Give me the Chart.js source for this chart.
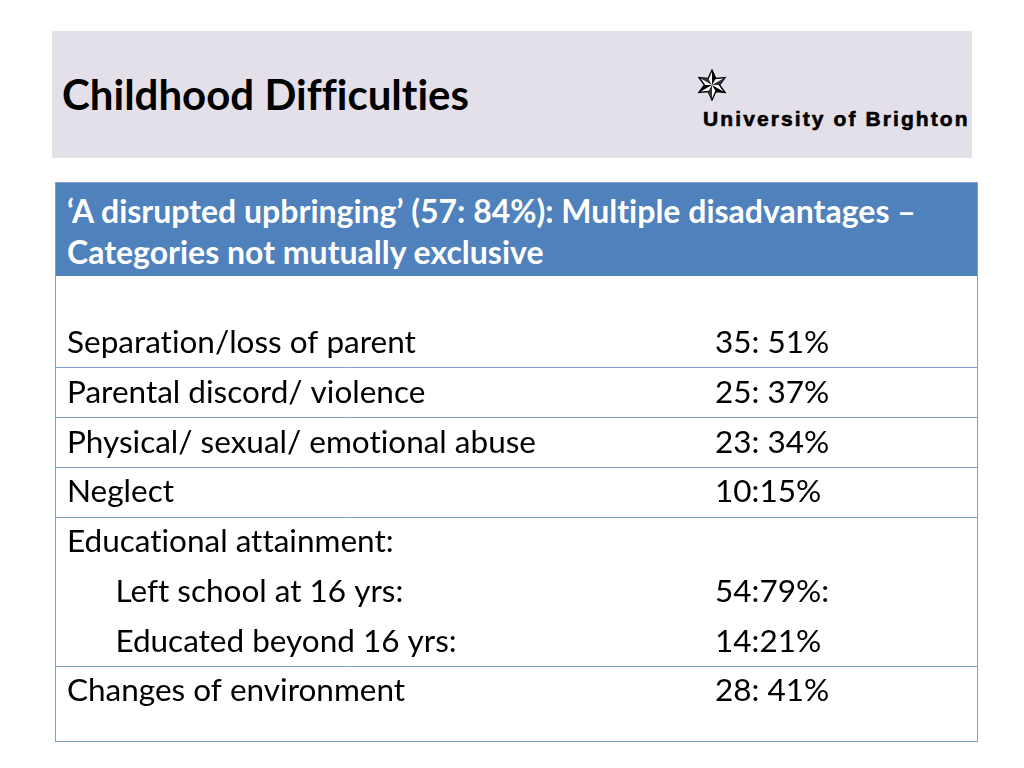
<!DOCTYPE html>
<html>
<head>
<meta charset="utf-8">
<title>Childhood Difficulties</title>
<script src="https://cdn.jsdelivr.net/npm/chart.js@4.4.1/dist/chart.umd.min.js"></script>
<style>
  html, body { margin: 0; padding: 0; background: #ffffff; }
  body { width: 1024px; height: 768px; position: relative; overflow: hidden; font-family: Lato, "Open Sans", sans-serif; font-variant-ligatures: none; }
  #band { position: absolute; left: 52px; top: 31px; width: 920px; height: 127px; background: #e4e0ea; }
  #title { position: absolute; left: 62px; top: 73px; font-size: 42px; line-height: 42px; font-weight: bold; color: #000; white-space: nowrap; }
  #logoStar { position: absolute; left: 696px; top: 69px; }
  #logoText { position: absolute; left: 703px; top: 109px; font-family: "Liberation Sans", Arial, sans-serif; font-weight: bold; font-size: 21px; line-height: 20px; letter-spacing: 2.1px; -webkit-text-stroke: 0.6px #000; color: #000; white-space: nowrap; }
  #table { position: absolute; left: 55px; top: 182px; width: 923px; height: 560px; box-sizing: border-box; border: 1px solid #7f9fcf; }
  #head { position: absolute; left: 0; top: 0; width: 921px; height: 93px; background: #4f81bd; color: #fff; font-weight: bold; font-size: 32px; line-height: 41px; box-sizing: border-box; padding: 7px 0 0 11px; white-space: nowrap; }
  #rows { position: absolute; left: 0; top: 93px; }
</style>
</head>
<body>
<div id="band"></div>
<div id="title">Childhood Difficulties</div>
<svg id="logoStar" width="32" height="32" viewBox="-16 -16 32 32">
  <polygon points="0,-15 3.8,-6.5 13,-7.5 7.5,0 13,7.5 3.8,6.5 0,15 -3.8,6.5 -13,7.5 -7.5,0 -13,-7.5 -3.8,-6.5" fill="#fff" stroke="#000" stroke-width="1.4"/>
  <polygon points="0,-15 3.8,-6.5 0,0" fill="#000"/>
  <polygon points="13,7.5 3.8,6.5 0,0" fill="#000"/>
  <polygon points="-13,7.5 -7.5,0 0,0" fill="#000"/>
  <polygon points="13,-7.5 7.5,0 0,0" fill="#333"/>
  <polygon points="0,15 -3.8,6.5 0,0" fill="#333"/>
  <polygon points="-13,-7.5 -3.8,-6.5 0,0" fill="#333"/>
</svg>
<div id="logoText">University of Brighton</div>

<div id="table">
  <div id="head">‘A disrupted upbringing’ (57: 84%): Multiple disadvantages –<br>Categories not mutually exclusive</div>
  <div id="rows"><canvas id="chart" width="921" height="465"></canvas></div>
</div>

<script>
// Row labels (left column) and value labels (right column)
const rowLabels = [
  'Separation/loss of parent',
  'Parental discord/ violence',
  'Physical/ sexual/ emotional abuse',
  'Neglect',
  'Educational attainment:',
  'Left school at 16 yrs:',
  'Educated beyond 16 yrs:',
  'Changes of environment'
];
const valueLabels = ['35: 51%', '25: 37%', '23: 34%', '10:15%', '', '54:79%:', '14:21%', '28: 41%'];
const counts = [35, 25, 23, 10, null, 54, 14, 28];

// rows that are sub-items of the one above, and rows that start a new table row
const subRows = [5, 6];
const rowBreaks = [1, 2, 3, 4, 7];

const lineColor = '#7f9fcf';
const textFont = { family: 'Lato', size: 31.5 };
const valueX = 659;

// Lato's "ti" ligature looks odd here, so turn ligatures off on the canvas
const noLigatures = {
  id: 'noLigatures',
  beforeDraw(chart) {
    chart.ctx.textRendering = 'optimizeSpeed';
  }
};

// Draw the right-hand value column at each row's scale position
const valueColumn = {
  id: 'valueColumn',
  afterDraw(chart) {
    const ctx = chart.ctx;
    const y = chart.scales.y;
    ctx.save();
    ctx.font = textFont.size + 'px ' + textFont.family;
    ctx.fillStyle = '#000';
    ctx.textAlign = 'left';
    ctx.textBaseline = 'middle';
    valueLabels.forEach((t, i) => {
      if (t) ctx.fillText(t, valueX, y.getPixelForValue(i));
    });
    ctx.restore();
  }
};

const canvas = document.getElementById('chart');
new Chart(canvas.getContext('2d'), {
  type: 'bar',
  data: {
    labels: rowLabels,
    datasets: [{
      label: 'Count',
      data: counts,
      backgroundColor: 'rgba(0,0,0,0)',
      borderWidth: 0
    }]
  },
  options: {
    indexAxis: 'y',
    responsive: false,
    animation: false,
    devicePixelRatio: 1,
    layout: { padding: { left: 11, top: 42, bottom: 25, right: 0 } },
    plugins: {
      legend: { display: false },
      tooltip: { enabled: false }
    },
    scales: {
      x: { display: false, min: 0, max: 60 },
      y: {
        type: 'category',
        offset: true,
        border: { display: false },
        grid: {
          offset: true,
          lineWidth: 1,
          tickLength: 591,
          color: (c) => rowBreaks.includes(c.index) ? lineColor : 'rgba(0,0,0,0)'
        },
        ticks: {
          autoSkip: false,
          crossAlign: 'far',
          padding: 0,
          color: '#000',
          font: textFont,
          callback: function(value, index) {
            const label = this.getLabelForValue(value);
            return subRows.includes(index) ? '      ' + label : label;
          }
        },
        afterFit(scale) {
          scale.width = 580;
        }
      }
    }
  },
  plugins: [noLigatures, valueColumn]
});
</script>
</body>
</html>
